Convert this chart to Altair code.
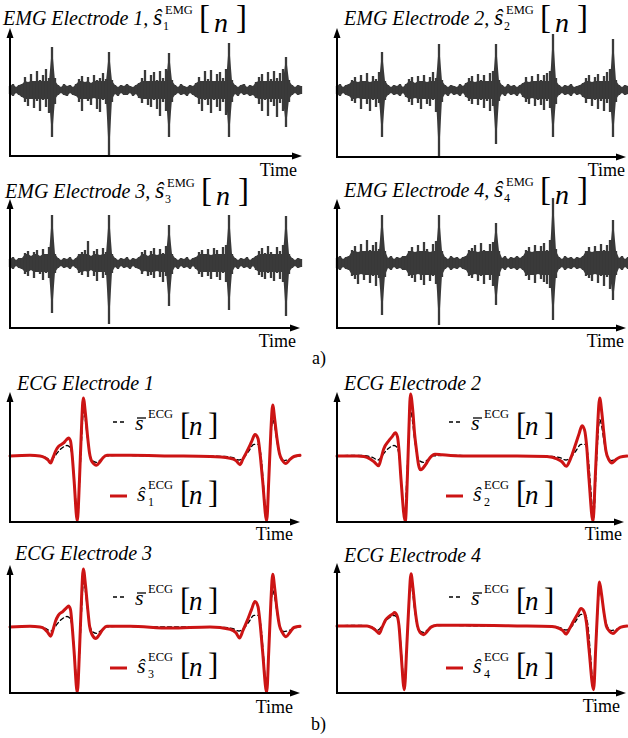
import altair as alt
import pandas as pd

# ------------------------------------------------------------------ EMG data
# envelope of each EMG trace (upper / lower amplitude), one reading every 3 time units
EMG_T = list(range(0, 294, 3))

EMG1_HI = ([4, 6, 3, 5] +
           [6, 13, 8, 16, 9, 19, 10, 15, 21, 12] +
           [43, 12] +
           [5, 3, 6, 4, 5, 3] +
           [6, 11, 14, 8, 13, 7, 15, 10, 12, 17, 11] +
           [38, 10] +
           [5, 3, 5, 4, 6, 4, 3, 5] +
           [7, 12, 20, 9, 15, 18, 10, 19, 12, 21] +
           [37, 10] +
           [5, 3, 6, 4, 3, 5, 4] +
           [7, 13, 9, 19, 11, 20, 9, 16, 18, 12, 21] +
           [47, 10] +
           [5, 3, 5, 6, 3, 5, 4] +
           [8, 13, 16, 9, 18, 11, 19, 12, 17, 21] +
           [33, 10] +
           [5, 3, 5, 4])
EMG1_LO = ([-4, -6, -3, -5] +
           [-7, -12, -16, -9, -18, -11, -21, -10, -17, -23] +
           [-47, -14] +
           [-5, -3, -5, -6, -3, -5] +
           [-6, -12, -21, -9, -11, -15, -8, -19, -22, -10, -14] +
           [-66, -12] +
           [-4, -6, -3, -5, -5, -3, -6, -4] +
           [-8, -13, -9, -15, -17, -10, -19, -26, -12, -21] +
           [-47, -12] +
           [-5, -3, -5, -4, -6, -3, -5] +
           [-7, -14, -21, -10, -15, -23, -10, -17, -21, -12, -25] +
           [-47, -12] +
           [-4, -6, -3, -5, -4, -6, -5] +
           [-8, -14, -21, -10, -26, -12, -16, -27, -13, -21] +
           [-37, -12] +
           [-5, -3, -5, -4])

EMG2_HI = ([4, 6, 3, 5] +
           [6, 10, 13, 8, 15, 9, 17, 8, 14, 11, 18] +
           [38, 9] +
           [5, 3, 5, 4, 6, 3] +
           [6, 11, 13, 7, 14, 9, 15, 8, 13, 18, 12] +
           [46, 10] +
           [5, 3, 5, 4, 3, 6, 4] +
           [7, 12, 14, 8, 16, 10, 15, 9, 17, 19] +
           [46, 10] +
           [5, 3, 6, 4, 5, 3, 5] +
           [7, 13, 8, 14, 9, 16, 10, 15, 17, 19] +
           [56, 12] +
           [5, 3, 5, 4, 6, 3, 4, 5] +
           [7, 12, 15, 8, 13, 16, 9, 14, 18, 21] +
           [51, 10] +
           [5, 3, 5, 4])
EMG2_LO = ([-4, -6, -3, -5] +
           [-6, -11, -13, -8, -19, -9, -14, -21, -10, -17, -13] +
           [-47, -10] +
           [-5, -3, -5, -4, -6, -3] +
           [-7, -12, -15, -8, -13, -19, -9, -14, -16, -10, -22] +
           [-66, -12] +
           [-4, -6, -3, -5, -4, -6, -3] +
           [-7, -11, -14, -9, -15, -10, -18, -11, -21, -16] +
           [-54, -11] +
           [-4, -6, -3, -5, -4, -6, -3] +
           [-7, -12, -14, -8, -16, -10, -15, -20, -11, -18] +
           [-47, -14] +
           [-5, -3, -5, -4, -6, -3, -5, -4] +
           [-7, -13, -9, -16, -10, -19, -11, -21, -13, -22] +
           [-47, -12] +
           [-5, -3, -5, -4])

EMG3_HI = ([4, 6, 3, 5] +
           [5, 10, 12, 7, 11, 13, 7, 14, 9, 16] +
           [48, 9] +
           [5, 3, 5, 4, 6, 3] +
           [5, 9, 11, 13, 22, 7, 12, 14, 8, 15, 11] +
           [48, 9] +
           [5, 3, 5, 4, 6, 3, 5, 4] +
           [6, 11, 13, 7, 12, 15, 8, 14, 10, 17] +
           [38, 9] +
           [5, 3, 5, 4, 6, 3, 5] +
           [6, 11, 13, 9, 14, 8, 15, 13, 9, 16, 18] +
           [48, 9] +
           [5, 3, 5, 4, 6, 3, 5] +
           [7, 12, 15, 10, 17, 11, 9, 16, 12, 18] +
           [47, 9] +
           [5, 3, 5, 4])
EMG3_LO = ([-4, -6, -3, -5] +
           [-6, -11, -13, -7, -15, -9, -11, -17, -10, -15] +
           [-50, -10] +
           [-5, -3, -5, -4, -6, -3] +
           [-5, -10, -12, -8, -14, -7, -13, -18, -9, -15, -12] +
           [-61, -10] +
           [-4, -6, -3, -5, -4, -6, -3, -5] +
           [-6, -11, -8, -13, -12, -15, -8, -14, -19, -13] +
           [-43, -11] +
           [-4, -6, -3, -5, -4, -6, -3] +
           [-6, -11, -14, -9, -13, -16, -9, -14, -17, -10, -19] +
           [-47, -11] +
           [-4, -6, -3, -5, -4, -6, -3] +
           [-7, -12, -14, -16, -10, -15, -18, -10, -16, -19] +
           [-53, -11] +
           [-5, -3, -5, -4])

EMG4_HI = ([5, 7, 4, 6] +
           [7, 13, 17, 11, 19, 12, 23, 13, 18, 21, 14] +
           [48, 12] +
           [5, 7, 4, 6, 5, 7] +
           [7, 12, 16, 11, 18, 12, 21, 14, 11, 19, 22] +
           [48, 12] +
           [6, 4, 7, 5, 6, 4, 6] +
           [7, 13, 15, 18, 11, 20, 13, 12, 19, 21] +
           [40, 12] +
           [5, 7, 4, 6, 5, 7, 5] +
           [7, 13, 16, 11, 18, 12, 17, 20, 13, 23] +
           [65, 14] +
           [6, 4, 7, 5, 6, 4, 6, 5] +
           [7, 12, 16, 11, 17, 12, 19, 13, 18, 23] +
           [43, 12] +
           [5, 7, 4, 6])
EMG4_LO = ([-5, -7, -4, -6] +
           [-7, -13, -16, -21, -11, -17, -12, -20, -13, -23, -15] +
           [-52, -14] +
           [-5, -7, -4, -6, -5, -7] +
           [-7, -13, -15, -19, -11, -17, -22, -12, -18, -13, -21] +
           [-62, -14] +
           [-6, -4, -7, -5, -6, -4, -6] +
           [-7, -13, -15, -11, -18, -13, -21, -12, -17, -23] +
           [-42, -13] +
           [-5, -7, -4, -6, -5, -7, -5] +
           [-7, -13, -17, -12, -20, -11, -16, -19, -21, -25] +
           [-57, -15] +
           [-6, -4, -7, -5, -6, -4, -6, -5] +
           [-7, -13, -15, -18, -11, -20, -13, -23, -14, -26] +
           [-37, -12] +
           [-5, -7, -4, -6])

# dense-core level of the bursts for each EMG trace
EMG_CORE = [9, 9, 9, 12]

# ------------------------------------------------------------------ ECG data
MEAN_T = [0, 20, 30, 36, 41, 45, 49, 53, 57, 60, 62.5, 65, 67.5, 70, 71.8, 73.5, 75.5, 77.5, 80, 83,
          86.5, 91, 96, 110, 150, 190, 215, 223, 229, 234, 239, 244, 248, 251, 253.5, 256.5, 259,
          260.8, 262.7, 264.8, 267, 269.5, 274, 279, 284, 290]
MEAN_V = [0, 0.01, 0, -0.03, -0.07, 0.0, 0.09, 0.15, 0.18, 0.15, -0.05, -0.6, -1.08, -0.3, 0.35, 0.8,
          0.6, 0.3, 0.02, -0.09, -0.11, -0.06, 0, 0.01, 0, 0, -0.01, -0.03, -0.07, -0.02, 0.09, 0.2,
          0.2, 0.0, -0.5, -1.08, -0.3, 0.3, 0.63, 0.5, 0.25, 0.03, -0.08, -0.06, -0.02, 0]

ECG1_T = [0, 20, 30, 35, 38, 40.7, 43, 45.5, 48.3, 53.3, 56.5, 58.5, 60.5, 62, 64, 67.3, 69.5, 71.3,
          73.3, 75.5, 77.5, 79.5, 82, 86.5, 90, 93, 97, 120, 160, 200, 220, 226, 230, 233, 236.7,
          241.7, 245, 248, 250, 252.5, 256.7, 258.8, 260.8, 262.7, 264.8, 267, 269.5, 272.5, 276,
          280, 284, 290]
ECG1_V = [0, 0.01, 0.0, -0.03, -0.07, -0.12, -0.03, 0.08, 0.16, 0.22, 0.28, 0.31, 0.26, 0.05, -0.4,
          -1.12, -0.4, 0.4, 1.0, 0.72, 0.35, 0.05, -0.1, -0.16, -0.1, -0.03, 0.01, 0.01, 0.0, -0.01,
          -0.04, -0.08, -0.15, -0.05, 0.07, 0.25, 0.37, 0.3, 0.05, -0.4, -1.12, -0.4, 0.4, 0.88,
          0.62, 0.3, 0.04, -0.08, -0.13, -0.06, -0.01, 0.01]

ECG2_T = [0, 20, 27, 33, 37, 41.7, 44, 46.7, 51.7, 55, 58.3, 60.5, 62, 64, 68.3, 70.5, 71.8, 73.5,
          75.7, 77.5, 79.5, 81.5, 83.5, 86, 89, 93, 98, 105, 125, 180, 210, 220, 225, 229.3, 233,
          238, 242, 245, 247.5, 249.5, 252, 256, 258.3, 260.3, 262.7, 264.8, 266.8, 269, 272, 275,
          279, 283, 290]
ECG2_V = [0, 0, -0.01, -0.05, -0.1, -0.17, -0.05, 0.12, 0.26, 0.33, 0.4, 0.33, 0.1, -0.4, -1.13,
          -0.3, 0.4, 1.07, 0.8, 0.4, 0.1, -0.15, -0.24, -0.21, -0.14, -0.03, 0.03, 0.02, 0, 0, -0.01,
          -0.05, -0.1, -0.18, -0.07, 0.17, 0.38, 0.52, 0.45, 0.2, -0.4, -1.13, -0.35, 0.4, 1.0, 0.75,
          0.4, 0.08, -0.07, -0.12, -0.06, -0.02, 0]

ECG3_T = [0, 20, 30, 35, 38, 40.7, 43, 45.5, 48.3, 53, 56.5, 58.5, 60.5, 62, 64, 67.3, 69.5, 71.3,
          73.3, 75.5, 77.5, 79.5, 82, 86, 89, 93, 97, 120, 160, 200, 220, 226, 229.5, 233, 237,
          241.5, 245, 248, 250, 252.5, 256.7, 258.8, 260.8, 262.7, 264.8, 267, 269.5, 272.5, 276,
          280, 284, 290]
ECG3_V = [0, 0.01, 0, -0.04, -0.1, -0.16, -0.05, 0.1, 0.2, 0.27, 0.33, 0.36, 0.3, 0.05, -0.4, -1.13,
          -0.4, 0.4, 1.0, 0.72, 0.35, 0.02, -0.13, -0.2, -0.14, -0.04, 0.01, 0.01, -0.02, 0, -0.04,
          -0.1, -0.19, -0.06, 0.1, 0.3, 0.44, 0.35, 0.08, -0.4, -1.13, -0.4, 0.4, 0.91, 0.65, 0.3,
          0.02, -0.1, -0.17, -0.09, -0.01, 0.01]

ECG4_T = [0, 20, 30, 35, 39, 42.3, 45, 48.5, 52.5, 56, 57.5, 60, 62, 64, 67.3, 69.8, 71.8, 74, 76,
          78, 80.5, 83, 86.5, 90, 94, 100, 130, 180, 215, 222, 226, 229, 232.5, 236.5, 240.5, 244,
          247, 249.5, 252, 256.6, 258.8, 260.6, 262.4, 264.5, 266.8, 269.3, 272.5, 276, 280, 284, 290]
ECG4_V = [0, 0.0, 0, -0.03, -0.08, -0.13, -0.03, 0.1, 0.17, 0.21, 0.23, 0.18, 0.0, -0.45, -1.1,
          -0.35, 0.35, 0.9, 0.65, 0.3, 0.0, -0.11, -0.15, -0.1, -0.02, 0.01, 0.01, 0, -0.01, -0.04,
          -0.08, -0.14, -0.05, 0.08, 0.2, 0.3, 0.25, 0.05, -0.4, -1.1, -0.35, 0.3, 0.76, 0.55, 0.25,
          0.0, -0.09, -0.13, -0.07, -0.02, 0]

# ------------------------------------------------------------------ helpers
ONE = pd.DataFrame({"k": [0]})
FONT = "Times New Roman"
RED = "#cc1414"
EMG_GREY = "#3a3a3a"


def txt(x, y, s, size, italic=False, align="left", font=FONT):
    return alt.Chart(ONE).mark_text(
        text=s, font=font, fontSize=size, fontStyle="italic" if italic else "normal",
        align=align, baseline="alphabetic", color="black"
    ).encode(x=alt.value(x), y=alt.value(y))


def rule(x1, y1, x2, y2, color="black", w=2.0, dash=None):
    kw = dict(color=color, strokeWidth=w)
    if dash:
        kw["strokeDash"] = dash
    return alt.Chart(ONE).mark_rule(**kw).encode(
        x=alt.value(x1), y=alt.value(y1), x2=alt.value(x2), y2=alt.value(y2))


def head(x, y, path):
    return alt.Chart(ONE).mark_point(
        shape=path, size=100, filled=True, color="black", opacity=1, strokeWidth=0
    ).encode(x=alt.value(x), y=alt.value(y))


def axes(ax, base, ytip, xtip):
    return [
        rule(ax, base + 1, ax, ytip + 8),
        rule(ax - 1, base, xtip - 8, base),
        head(ax, ytip + 5, "M0,-1L0.7,1L-0.7,1Z"),
        head(xtip - 5, base, "M1,0L-1,0.7L-1,-0.7Z"),
    ]


def emg_layers(hi, lo, ax, center, core):
    n = min(len(EMG_T), len(hi), len(lo))
    df = pd.DataFrame({"t": EMG_T[:n], "hi": hi[:n], "lo": lo[:n]})
    xs = alt.Scale(domain=[0, 290], range=[ax, ax + 290], nice=False, zero=False)
    ys = alt.Scale(domain=[-66, 62], range=[center + 66, center - 62], nice=False, zero=False)
    base = alt.Chart(df)
    body = base.transform_calculate(
        ahi=f"datum.hi > 30 ? datum.hi : min(datum.hi, {core})",
        alo=f"datum.lo < -30 ? datum.lo : max(datum.lo, -{core})",
    ).mark_area(color=EMG_GREY, interpolate="linear", opacity=1).encode(
        x=alt.X("t:Q", scale=xs, axis=None),
        y=alt.Y("alo:Q", scale=ys, axis=None),
        y2="ahi:Q",
    )
    spikes = base.mark_rule(color=EMG_GREY, strokeWidth=2.3).encode(
        x=alt.X("t:Q", scale=xs, axis=None),
        y=alt.Y("lo:Q", scale=ys, axis=None),
        y2="hi:Q",
    )
    return [alt.layer(body, spikes)]


def ecg_line(t, v, ax, flat, color, width, dash=None):
    df = pd.DataFrame({"t": t, "v": v})
    xs = alt.Scale(domain=[0, 290], range=[ax, ax + 290], nice=False, zero=False)
    ys = alt.Scale(domain=[-1.14, 1.0], range=[flat + 66, flat - 58], nice=False, zero=False)
    kw = dict(color=color, strokeWidth=width, interpolate="monotone", strokeJoin="round",
              strokeCap="round")
    if dash:
        kw["strokeDash"] = dash
    return alt.Chart(df).mark_line(**kw).encode(
        x=alt.X("t:Q", scale=xs, axis=None),
        y=alt.Y("v:Q", scale=ys, axis=None),
    )


def emg_title(x0, ty, idx):
    return [
        txt(x0, ty, f"EMG Electrode {idx},", 20, True),
        txt(x0 + 150, ty, "ŝ", 24, True),
        txt(x0 + 160, ty + 5, str(idx), 12),
        txt(x0 + 162, ty - 11, "EMG", 12.5),
        txt(x0 + 196, ty + 3, "[", 33),
        txt(x0 + 211, ty + 7, "n", 28, True),
        txt(x0 + 233, ty + 3, "]", 33),
    ]


def ecg_legend(lx, ya, yb, idx):
    return [
        rule(lx, ya, lx + 11, ya, w=1.4, dash=[4, 3]),
        txt(lx + 22, ya + 8, "s", 22, True),
        rule(lx + 24, ya - 4, lx + 33, ya - 4, w=1.3),
        txt(lx + 35, ya - 4, "ECG", 12.5),
        txt(lx + 67, ya + 13, "[", 31),
        txt(lx + 76, ya + 13, "n", 27, True),
        txt(lx + 95, ya + 13, "]", 31),
        rule(lx - 3, yb, lx + 14, yb, color=RED, w=3),
        txt(lx + 24, yb + 5, "ŝ", 22, True),
        txt(lx + 35, yb + 10, str(idx), 12),
        txt(lx + 35, yb - 7, "ECG", 12.5),
        txt(lx + 67, yb + 7, "[", 31),
        txt(lx + 76, yb + 8, "n", 27, True),
        txt(lx + 95, yb + 7, "]", 31),
    ]


layers = []

# ------------------------------------------------------------------ EMG panels
EMG_PANELS = [
    # hi, lo, axis x, centre y, base y, y tip, x tip, title x, title y, time x, time y, index
    (EMG1_HI, EMG1_LO, 10, 90, 156, 28, 302, 3, 25, 297, 176, 1),
    (EMG2_HI, EMG2_LO, 337, 90, 157, 28, 626, 344, 25, 625, 176, 2),
    (EMG3_HI, EMG3_LO, 10, 263, 328, 199, 300, 5, 198, 296, 347, 3),
    (EMG4_HI, EMG4_LO, 337, 263, 328, 199, 626, 344, 197, 624, 347, 4),
]
for (hi, lo, ax, cy, base, ytip, xtip, tx, ty, timex, timey, idx), core in zip(EMG_PANELS, EMG_CORE):
    layers += emg_layers(hi, lo, ax, cy, core)
    layers += axes(ax, base, ytip, xtip)
    layers += emg_title(tx, ty, idx)
    layers.append(txt(timex, timey, "Time", 18, align="right"))

# ------------------------------------------------------------------ ECG panels
ECG_PANELS = [
    # t, v, axis x, flat y, base y, y tip, x tip, title x, title y, time x, time y, legend x, ya, yb, idx
    (ECG1_T, ECG1_V, 10, 456, 522, 392, 300, 17, 390, 293, 540, 113, 422, 496, 1),
    (ECG2_T, ECG2_V, 337, 456, 522, 392, 624, 344, 390, 622, 540, 449, 422, 496, 2),
    (ECG3_T, ECG3_V, 10, 627, 693, 565, 300, 15, 560, 293, 713, 113, 597, 668, 3),
    (ECG4_T, ECG4_V, 337, 626, 693, 563, 626, 344, 562, 620, 712, 449, 597, 668, 4),
]
for t, v, ax, flat, base, ytip, xtip, tx, ty, timex, timey, lx, ya, yb, idx in ECG_PANELS:
    layers.append(ecg_line(MEAN_T, MEAN_V, ax, flat, "black", 1.3, dash=[4, 3]))
    layers.append(ecg_line(t, v, ax, flat, RED, 3))
    layers += axes(ax, base, ytip, xtip)
    layers.append(txt(tx, ty, f"ECG Electrode {idx}", 20, True))
    layers += ecg_legend(lx, ya, yb, idx)
    layers.append(txt(timex, timey, "Time", 18, align="right"))

layers.append(txt(312, 364, "a)", 18))
layers.append(txt(311, 730, "b)", 18))

chart = alt.layer(*layers).resolve_scale(x="independent", y="independent").properties(
    width=628, height=738, autosize=alt.AutoSizeParams(type="none"), padding=0,
    background="white",
).configure_view(stroke=None)

chart.save("out.html", embed_options={"renderer": "svg", "actions": False})
